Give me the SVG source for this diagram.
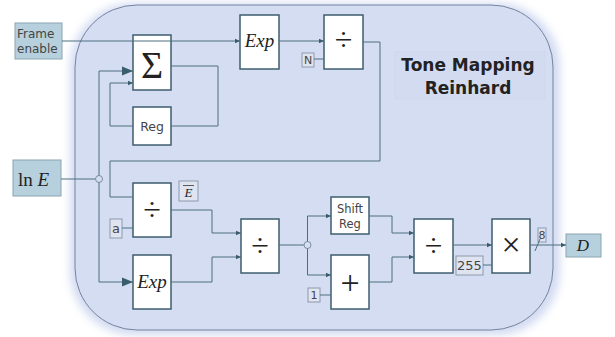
<svg xmlns="http://www.w3.org/2000/svg" width="615" height="337" viewBox="0 0 615 337">
<defs>
<filter id="glow" x="-10%" y="-10%" width="120%" height="120%"><feGaussianBlur stdDeviation="4"/></filter>
<marker id="sa" markerWidth="6" markerHeight="6" refX="5" refY="3" orient="auto" markerUnits="userSpaceOnUse"><path d="M0,0.8 L5,3 L0,5.2 Z" fill="#3a5d6d"/></marker>
<marker id="la" markerWidth="12" markerHeight="10" refX="11" refY="5" orient="auto" markerUnits="userSpaceOnUse"><path d="M0,0.5 L11,5 L0,9.5 Z" fill="#3a5d6d"/></marker>
</defs>
<style>
.blk{fill:#ffffff;stroke:#3e5e6c;stroke-width:1.5}
.io{fill:#b6d0dd;stroke:#8aa5b2;stroke-width:1}
.cst{fill:#dfe4f0;stroke:#8b9aac;stroke-width:1}
.w{fill:none;stroke:#4d6e7e;stroke-width:1}
.t{font-family:"DejaVu Sans",sans-serif;fill:#444;}
.m{font-family:"Liberation Serif","DejaVu Serif",serif;fill:#222;}
</style>
<rect x="70" y="3" width="490" height="332" rx="64" fill="#c8d2ee" filter="url(#glow)" opacity="0.8"/>
<rect x="75" y="5" width="478" height="325" rx="62" fill="#d5ddf3" stroke="#7383a0" stroke-width="1"/>
<g id="title">
<rect x="395" y="52" width="150" height="47" fill="#d3dbf1" stroke="#cdd5ec" stroke-width="0.6"/>
<text x="468" y="71" text-anchor="middle" font-family="DejaVu Sans,sans-serif" font-weight="bold" font-size="17" fill="#222">Tone Mapping</text>
<text x="468" y="94" text-anchor="middle" font-family="DejaVu Sans,sans-serif" font-weight="bold" font-size="17" fill="#222">Reinhard</text>
</g>
<g id="frame_enable"><rect class="io" x="15" y="23" width="47" height="36"/><text class="t" x="17" y="38" font-size="12">Frame</text><text class="t" x="17" y="53" font-size="12">enable</text></g>
<g id="lnE"><rect class="io" x="13" y="160" width="48" height="36"/><text class="m" x="18" y="186" font-size="19">ln <tspan font-style="italic">E</tspan></text></g>
<g id="D"><rect class="io" x="566" y="234" width="35" height="23"/><text class="m" x="583" y="251" font-size="17" font-style="italic" text-anchor="middle" fill="#334">D</text></g>
<g id="sum"><rect class="blk" x="133" y="35" width="38" height="55"/><text class="m" x="152" y="78" font-size="38" text-anchor="middle">Σ</text></g>
<g id="reg"><rect class="blk" x="133" y="107" width="38" height="38"/><text class="t" x="152" y="131" font-size="12.5" text-anchor="middle">Reg</text></g>
<g id="exp_top"><rect class="blk" x="240" y="15" width="39" height="54"/><text class="m" x="259.5" y="47" font-size="19" font-style="italic" text-anchor="middle">Exp</text></g>
<g id="div_top"><rect class="blk" x="324" y="15" width="39" height="54"/><text class="m" x="343.5" y="50" font-size="32" text-anchor="middle">÷</text></g>
<g id="N"><rect class="cst" x="302" y="53" width="12" height="14"/><text class="t" x="308" y="64" font-size="11" text-anchor="middle">N</text></g>
<g id="div_a"><rect class="blk" x="133" y="183" width="38" height="54"/><text class="m" x="152" y="220" font-size="32" text-anchor="middle">÷</text></g>
<g id="a"><rect class="cst" x="110" y="219" width="12" height="19"/><text class="t" x="116" y="233" font-size="13" text-anchor="middle">a</text></g>
<g id="Ebar"><rect class="cst" x="179" y="181" width="19" height="20"/><text class="m" x="188.5" y="197" font-size="13" font-style="italic" text-anchor="middle">E</text><line x1="183" y1="185.5" x2="194" y2="185.5" stroke="#333" stroke-width="0.8"/></g>
<g id="exp_bot"><rect class="blk" x="133" y="255" width="38" height="54"/><text class="m" x="152" y="288" font-size="19" font-style="italic" text-anchor="middle">Exp</text></g>
<g id="div_mid"><rect class="blk" x="241" y="219" width="38" height="54"/><text class="m" x="260" y="256" font-size="32" text-anchor="middle">÷</text></g>
<g id="shift_reg"><rect class="blk" x="331" y="197" width="38" height="37"/><text class="t" x="350" y="213" font-size="11.5" text-anchor="middle">Shift</text><text class="t" x="350" y="228" font-size="11.5" text-anchor="middle">Reg</text></g>
<g id="plus"><rect class="blk" x="331" y="255" width="38" height="54"/><text class="m" x="350" y="294" font-size="34" text-anchor="middle">+</text></g>
<g id="one"><rect class="cst" x="308" y="288" width="12" height="14"/><text class="t" x="314" y="299" font-size="11" text-anchor="middle">1</text></g>
<g id="div_r"><rect class="blk" x="414" y="219" width="39" height="54"/><text class="m" x="433.5" y="256" font-size="32" text-anchor="middle">÷</text></g>
<g id="c255"><rect class="cst" x="456" y="256" width="27" height="19"/><text class="t" x="469.5" y="270" font-size="13" text-anchor="middle">255</text></g>
<g id="mul"><rect class="blk" x="492" y="219" width="38" height="54"/><text class="m" x="511" y="256" font-size="34" text-anchor="middle">×</text></g>
<g id="eight"><rect class="cst" x="538" y="228" width="8" height="14"/><text class="t" x="542" y="239" font-size="11" text-anchor="middle">8</text></g>
<g id="connectors">
<path class="w" d="M62,41 H240" marker-end="url(#sa)"/>
<path class="w" d="M279,41 H324" marker-end="url(#sa)"/>
<path class="w" d="M314,59 H324"/>
<path class="w" d="M363,42 H380 V161 H110 V197 H133"/>
<path class="w" d="M171,66 H218 V126 H171"/>
<path class="w" d="M133,126 H110 V83 H133" marker-end="url(#sa)"/>
<path class="w" d="M61,179 H95.5"/>
<circle cx="99" cy="179" r="3.5" fill="#d5ddf3" stroke="#7a8fa0" stroke-width="1"/>
<path class="w" d="M99,175.5 V71 H133" marker-end="url(#la)"/>
<path class="w" d="M99,182.5 V282 H133" marker-end="url(#la)"/>
<path class="w" d="M122,228 H133"/>
<path class="w" d="M171,210 H212 V233 H241" marker-end="url(#sa)"/>
<path class="w" d="M171,282 H212 V257 H241" marker-end="url(#sa)"/>
<path class="w" d="M279,245 H304"/>
<circle cx="307.5" cy="245" r="3.5" fill="#d5ddf3" stroke="#7a8fa0" stroke-width="1"/>
<path class="w" d="M307.5,241.5 V216 H331" marker-end="url(#sa)"/>
<path class="w" d="M307.5,248.5 V275 H331" marker-end="url(#sa)"/>
<path class="w" d="M320,295 H331"/>
<path class="w" d="M369,216 H392 V233 H414" marker-end="url(#sa)"/>
<path class="w" d="M369,282 H392 V257 H414" marker-end="url(#sa)"/>
<path class="w" d="M453,245 H492" marker-end="url(#sa)"/>
<path class="w" d="M483,265 H492"/>
<path class="w" d="M530,245 H566" marker-end="url(#sa)"/>
<path class="w" d="M535,251 L540,239"/>
</g>
</svg>
